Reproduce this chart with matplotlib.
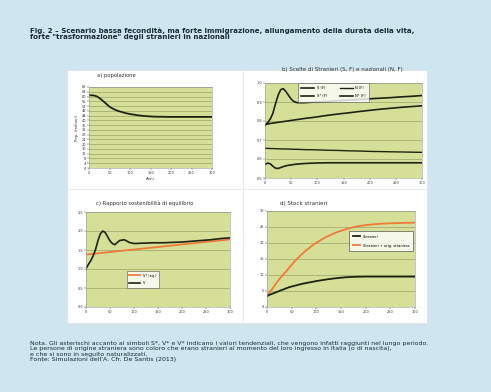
import matplotlib
matplotlib.use("Agg")
import matplotlib.pyplot as plt
from matplotlib.patches import Rectangle

# anni di simulazione (comuni a tutti i pannelli)
anni = [0, 5, 10, 15, 20, 25, 30, 35, 40, 45, 50, 55, 60, 70, 80, 90, 100,
        120, 140, 160, 180, 200, 220, 240, 260, 280, 300]

# a) popolazione (milioni)
popolazione = [61, 61, 61, 60.6, 60, 58.8, 57.5, 56, 54.5, 53, 51.5, 50.4, 49.5,
               48, 47, 46, 45.3, 44.2, 43.5, 43.1, 43, 42.9, 42.9, 42.9, 42.9, 42.9, 42.9]

# b) scelte di stranieri e nazionali
scelte_s = [0.78, 0.79, 0.81, 0.84, 0.89, 0.935, 0.965, 0.97, 0.955, 0.935, 0.915,
            0.903, 0.897, 0.896, 0.897, 0.899, 0.90, 0.903, 0.906, 0.91, 0.913,
            0.917, 0.92, 0.923, 0.927, 0.93, 0.934]
scelte_s_tend = [0.78, 0.784, 0.787, 0.789, 0.791, 0.793, 0.795, 0.797, 0.799, 0.801,
                 0.803, 0.805, 0.807, 0.811, 0.815, 0.818, 0.822, 0.83, 0.837, 0.843,
                 0.85, 0.856, 0.862, 0.867, 0.872, 0.876, 0.88]
scelte_n_tend = [0.656, 0.656, 0.655, 0.655, 0.654, 0.654, 0.653, 0.653, 0.653, 0.652,
                 0.652, 0.651, 0.651, 0.650, 0.649, 0.649, 0.648, 0.646, 0.645, 0.643,
                 0.642, 0.640, 0.639, 0.638, 0.637, 0.636, 0.635]
scelte_n = [0.572, 0.578, 0.575, 0.562, 0.552, 0.550, 0.555, 0.56, 0.564, 0.567, 0.569,
            0.571, 0.573, 0.575, 0.577, 0.578, 0.579, 0.58, 0.58, 0.58, 0.58, 0.58,
            0.58, 0.58, 0.58, 0.58, 0.58]
labels_b = ["S (F)", "S* (F)", "N (F)", "N* (F)"]

# c) rapporto di equilibrio
rapporto = [1.01, 1.12, 1.22, 1.35, 1.52, 1.75, 1.93, 2.0, 1.96, 1.85, 1.74, 1.67, 1.64,
            1.75, 1.77, 1.70, 1.67, 1.68, 1.69, 1.69, 1.70, 1.71, 1.73, 1.75, 1.77, 1.80, 1.82]
rapporto_eq = [1.38, 1.387, 1.393, 1.40, 1.407, 1.413, 1.42, 1.427, 1.433, 1.44, 1.447,
               1.453, 1.46, 1.473, 1.487, 1.50, 1.513, 1.54, 1.567, 1.593, 1.62, 1.647,
               1.673, 1.70, 1.727, 1.753, 1.78]

# d) stock stranieri
stranieri = [3.4, 3.8, 4.1, 4.4, 4.7, 5.0, 5.3, 5.6, 5.9, 6.2, 6.4, 6.6, 6.8, 7.2, 7.5,
             7.8, 8.1, 8.6, 9.0, 9.3, 9.45, 9.5, 9.5, 9.5, 9.5, 9.5, 9.5]
stranieri_orig = [3.4, 4.5, 5.5, 6.6, 7.7, 8.7, 9.6, 10.5, 11.3, 12.3, 13.2, 14.1, 14.9,
                  16.4, 17.8, 19.0, 20.1, 21.9, 23.3, 24.3, 25.1, 25.6, 25.9, 26.1, 26.2,
                  26.3, 26.35]

BG = "#cfe5ef"
AREA = "#d6df98"
GRID = "#9aa36a"
DARK = "#1c2410"
ORANGE = "#ef7a3a"
TXT = "#333333"

fig = plt.figure(figsize=(4.91, 3.92), dpi=100)
fig.patch.set_facecolor(BG)

# riquadro bianco con i quattro grafici (asse di sfondo)
bg = fig.add_axes([0, 0, 1, 1], zorder=-10)
bg.set_xlim(0, 491)
bg.set_ylim(392, 0)
bg.axis("off")
bg.add_patch(Rectangle((67, 70), 360, 253, facecolor="white", edgecolor="#dddddd", lw=0.5))
bg.plot([243, 243], [70, 323], color="#e6e6e6", lw=0.6)
bg.plot([67, 427], [189, 189], color="#e6e6e6", lw=0.6)

fig.text(30 / 491, 1 - 27 / 392,
         "Fig. 2 – Scenario bassa fecondità, ma forte immigrazione, allungamento della durata della vita,\n"
         "forte \"trasformazione\" degli stranieri in nazionali",
         fontsize=5.1, fontweight="bold", color="#1a2a3a", va="top", linespacing=1.15)


def style(ax, yticks):
    ax.set_facecolor(AREA)
    ax.set_xlim(0, 300)
    ax.set_xticks([0, 50, 100, 150, 200, 250, 300])
    ax.set_yticks(yticks)
    ax.set_ylim(yticks[0], yticks[-1])
    ax.grid(axis="y", color=GRID, lw=0.5)
    ax.set_axisbelow(True)
    ax.tick_params(labelsize=2.5, colors=TXT, length=1.2, width=0.3, pad=1)
    for s in ax.spines.values():
        s.set_color("#999999")
        s.set_linewidth(0.4)


# a)
ax = fig.add_axes([89 / 491, 1 - 168 / 392, 123 / 491, 81 / 392])
style(ax, list(range(0, 69, 4)))
ax.plot(anni, popolazione, color=DARK, lw=1.3)
ax.set_xlabel("Anni", fontsize=2.8, color=TXT, labelpad=1.5)
ax.set_ylabel("Pop. (milioni)", fontsize=2.8, color=TXT, labelpad=1.5)
fig.text(97 / 491, 1 - 76 / 392, "a) popolazione", fontsize=3.8, color=TXT, va="center")

# b)
ax = fig.add_axes([265 / 491, 1 - 178 / 392, 157 / 491, 95 / 392])
style(ax, [0.5, 0.6, 0.7, 0.8, 0.9, 1.0])
ax.yaxis.set_major_formatter(matplotlib.ticker.FormatStrFormatter("%.1f"))
ax.plot(anni, scelte_s, color=DARK, lw=1.2, label=labels_b[0])
ax.plot(anni, scelte_s_tend, color=DARK, lw=1.2, label=labels_b[1])
ax.plot(anni, scelte_n_tend, color=DARK, lw=1.0, label=labels_b[2])
ax.plot(anni, scelte_n, color=DARK, lw=1.2, label=labels_b[3])
leg = ax.legend(loc="upper left", bbox_to_anchor=(0.2, 1.02), ncol=2, fontsize=2.6,
                frameon=True, fancybox=False, edgecolor="#555555", handlelength=3.5,
                columnspacing=3.5, borderpad=0.9, labelspacing=1.2)
leg.get_frame().set_linewidth(0.5)
fig.text(342 / 491, 1 - 70 / 392, "b) Scelte di Stranieri (S, F) e nazionali (N, F)",
         fontsize=4.0, color=TXT, ha="center", va="center")

# c)
ax = fig.add_axes([86 / 491, 1 - 307 / 392, 144 / 491, 95 / 392])
style(ax, [0, 0.5, 1.0, 1.5, 2.0, 2.5])
ax.plot(anni, rapporto_eq, color=ORANGE, lw=1.3, label="V* (eq.)")
ax.plot(anni, rapporto, color=DARK, lw=1.2, label="V")
leg = ax.legend(loc="upper left", bbox_to_anchor=(0.27, 0.4), fontsize=2.5,
                frameon=True, fancybox=False, edgecolor="#555555", handlelength=3,
                borderpad=0.8, labelspacing=1.0)
leg.get_frame().set_linewidth(0.5)
fig.text(96 / 491, 1 - 203 / 392, "c) Rapporto sostenibilità di equilibrio",
         fontsize=3.8, color=TXT, va="center")

# d)
ax = fig.add_axes([267 / 491, 1 - 307 / 392, 148 / 491, 96 / 392])
style(ax, [0, 5, 10, 15, 20, 25, 30])
ax.plot(anni, stranieri_orig, color=ORANGE, lw=1.3, label="Stranieri + orig. straniera")
ax.plot(anni, stranieri, color=DARK, lw=1.3, label="Stranieri")
handles, labs = ax.get_legend_handles_labels()
leg = ax.legend(handles[::-1], labs[::-1], loc="upper right", bbox_to_anchor=(1.0, 0.81),
                fontsize=2.6, frameon=True, fancybox=False, edgecolor="#333333",
                handlelength=2, borderpad=1.0, labelspacing=1.4)
leg.get_frame().set_linewidth(0.5)
fig.text(280 / 491, 1 - 203 / 392, "d) Stock stranieri", fontsize=4.0, color=TXT, va="center")

fig.text(30 / 491, 1 - 341 / 392,
         "Nota. Gli asterischi accanto ai simboli S*, V* e V* indicano i valori tendenziali, che vengono infatti raggiunti nel lungo periodo.\n"
         "Le persone di origine straniera sono coloro che erano stranieri al momento del loro ingresso in Italia (o di nascita),\n"
         "e che si sono in seguito naturalizzati.\n"
         "Fonte: Simulazioni dell'A. Cfr. De Santis (2013)",
         fontsize=4.5, color="#1a2a3a", va="top", linespacing=1.1)

fig.savefig("out.png", dpi=100, facecolor=BG)
